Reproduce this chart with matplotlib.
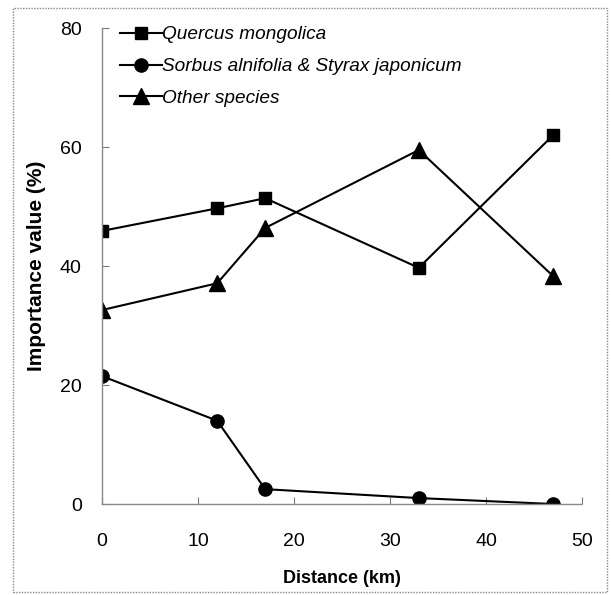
import matplotlib
matplotlib.use("Agg")
import matplotlib.pyplot as plt
from matplotlib.patches import Rectangle

plt.rcParams['font.family'] = ['Liberation Sans', 'DejaVu Sans']

# data
distance = [0, 12, 17, 33, 47]
quercus = [45.9, 49.7, 51.4, 39.7, 62.0]
sorbus = [21.5, 14.0, 2.5, 1.0, 0.0]
other = [32.6, 37.1, 46.4, 59.5, 38.3]
labels = ["Quercus mongolica", "Sorbus alnifolia & Styrax japonicum", "Other species"]

fig = plt.figure(figsize=(6.11, 5.95), dpi=100)
ax = fig.add_axes([0.1669, 0.1529, 0.7856, 0.80])

ax.plot(distance, quercus, color='black', marker='s', markersize=9, lw=1.5, label=labels[0])
ax.plot(distance, sorbus, color='black', marker='o', markersize=9.5, lw=1.5, label=labels[1])
ax.plot(distance, other, color='black', marker='^', markersize=12, lw=1.5, label=labels[2])

ax.set_xlim(0, 50)
ax.set_ylim(0, 80)
ax.set_xticks([0, 10, 20, 30, 40, 50])
ax.set_yticks([0, 20, 40, 60, 80])
ax.tick_params(labelsize=14, direction='in', length=5, color='#777777')
ax.tick_params(axis='x', pad=21)
ax.tick_params(axis='y', pad=14.5)

for side in ['top', 'right']:
    ax.spines[side].set_visible(False)
for side in ['left', 'bottom']:
    ax.spines[side].set_color('#888888')
    ax.spines[side].set_linewidth(1.0)
    ax.spines[side].set_linestyle((0, (1, 1)))

ax.set_xlabel("Distance (km)", fontsize=13, fontweight='bold', labelpad=14)
ax.set_ylabel("Importance value (%)", fontsize=15, fontweight='bold', labelpad=10)

leg = ax.legend(loc='upper left', frameon=False, fontsize=13.7, handlelength=2.2,
                borderaxespad=0.0, bbox_to_anchor=(0.021, 1.02), labelspacing=0.76,
                handletextpad=0.05)
for t in leg.get_texts():
    t.set_fontstyle('italic')

# thin frame around the whole picture
fig.patches.append(Rectangle((13 / 611, 3 / 595), 594 / 611, 584 / 595, transform=fig.transFigure,
                             fill=False, edgecolor='#888888', lw=1.0, linestyle=(0, (1, 1))))

fig.savefig("out.png", dpi=100)
